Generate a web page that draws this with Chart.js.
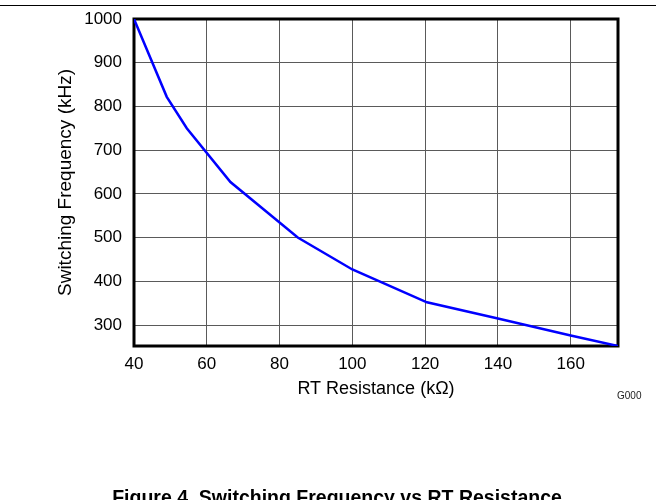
<!DOCTYPE html>
<html>
<head>
<meta charset="utf-8">
<script src="https://cdn.jsdelivr.net/npm/chart.js@4.4.1/dist/chart.umd.min.js"></script>
<style>
  body { margin: 0; background: #fff; font-family: "Liberation Sans", Arial, sans-serif; }
  #wrap { position: relative; width: 656px; height: 500px; overflow: hidden; }
  #rule { position: absolute; left: 0; top: 5px; width: 656px; height: 1px; background: #000; }
  #code { position: absolute; left: 617px; top: 390px; font-size: 10px; color: #222; }
  #caption { position: absolute; left: 0; width: 674px; top: 488px; text-align: center;
             font-size: 19.5px; font-weight: bold; line-height: 1; color: #000; }
  canvas { position: absolute; left: 0; top: 0; }
</style>
</head>
<body>
<div id="wrap">
  <canvas id="freqChart" width="656" height="500"></canvas>
  <div id="rule"></div>
  <div id="code">G000</div>
  <div id="caption">Figure 4. Switching Frequency vs RT Resistance</div>
</div>
<script>
// values
var rtResistance = [40, 49, 54.5, 66.5, 85, 100, 120.5, 140, 160, 173];
var switchingFreq = [1000, 822, 750, 627, 500, 427, 352, 315, 276, 252];
var xTicks = [40, 60, 80, 100, 120, 140, 160];
var yTicks = [300, 400, 500, 600, 700, 800, 900, 1000];

// black frame around the plot area
var frame = {
    id: 'frame',
    beforeDatasetsDraw: function(chart) {
        var a = chart.chartArea, c = chart.ctx;
        c.save();
        c.strokeStyle = '#000';
        c.lineWidth = 3;
        c.strokeRect(a.left, a.top, a.right - a.left, a.bottom - a.top);
        c.restore();
    }
};

var ctx = document.getElementById('freqChart').getContext('2d');
var freqChart = new Chart(ctx, {
    type: 'line',
    data: {
        datasets: [{
            label: 'Switching Frequency',
            data: rtResistance.map(function(x, i) { return { x: x, y: switchingFreq[i] }; }),
            borderColor: '#0000ff',
            borderWidth: 2.5,
            pointRadius: 0,
            tension: 0,
            fill: false
        }]
    },
    options: {
        responsive: false,
        animation: false,
        layout: { padding: { top: 19, right: 38, left: 0, bottom: 100 } },
        scales: {
            x: {
                type: 'linear',
                min: 40,
                max: 173,
                afterBuildTicks: function(s) { s.ticks = xTicks.map(function(v) { return { value: v }; }); },
                afterFit: function(s) { s.height = 54; s.paddingLeft = 0; s.paddingRight = 0; },
                grid: { color: '#5a5a5a', lineWidth: 1, drawTicks: false },
                border: { display: false },
                ticks: {
                    color: '#000', padding: 8,
                    font: { family: 'Liberation Sans', size: 17 },
                    callback: function(v) { return String(v); }
                },
                title: {
                    display: true,
                    text: 'RT Resistance (k\u03A9)',
                    color: '#000',
                    padding: { top: 0, bottom: 0 },
                    font: { family: 'Liberation Sans', size: 18 }
                }
            },
            y: {
                min: 252,
                max: 1000,
                afterBuildTicks: function(s) { s.ticks = yTicks.map(function(v) { return { value: v }; }); },
                afterFit: function(s) { s.width = 134; s.paddingTop = 0; s.paddingBottom = 0; },
                grid: { color: '#5a5a5a', lineWidth: 1, drawTicks: false },
                border: { display: false },
                ticks: {
                    color: '#000', padding: 12,
                    font: { family: 'Liberation Sans', size: 17 },
                    callback: function(v) { return String(v); }
                },
                title: {
                    display: true,
                    text: 'Switching Frequency (kHz)',
                    color: '#000',
                    padding: { top: 54, bottom: 0 },
                    font: { family: 'Liberation Sans', size: 19 }
                }
            }
        },
        plugins: {
            legend: { display: false },
            tooltip: { enabled: false }
        }
    },
    plugins: [frame]
});
</script>
</body>
</html>
